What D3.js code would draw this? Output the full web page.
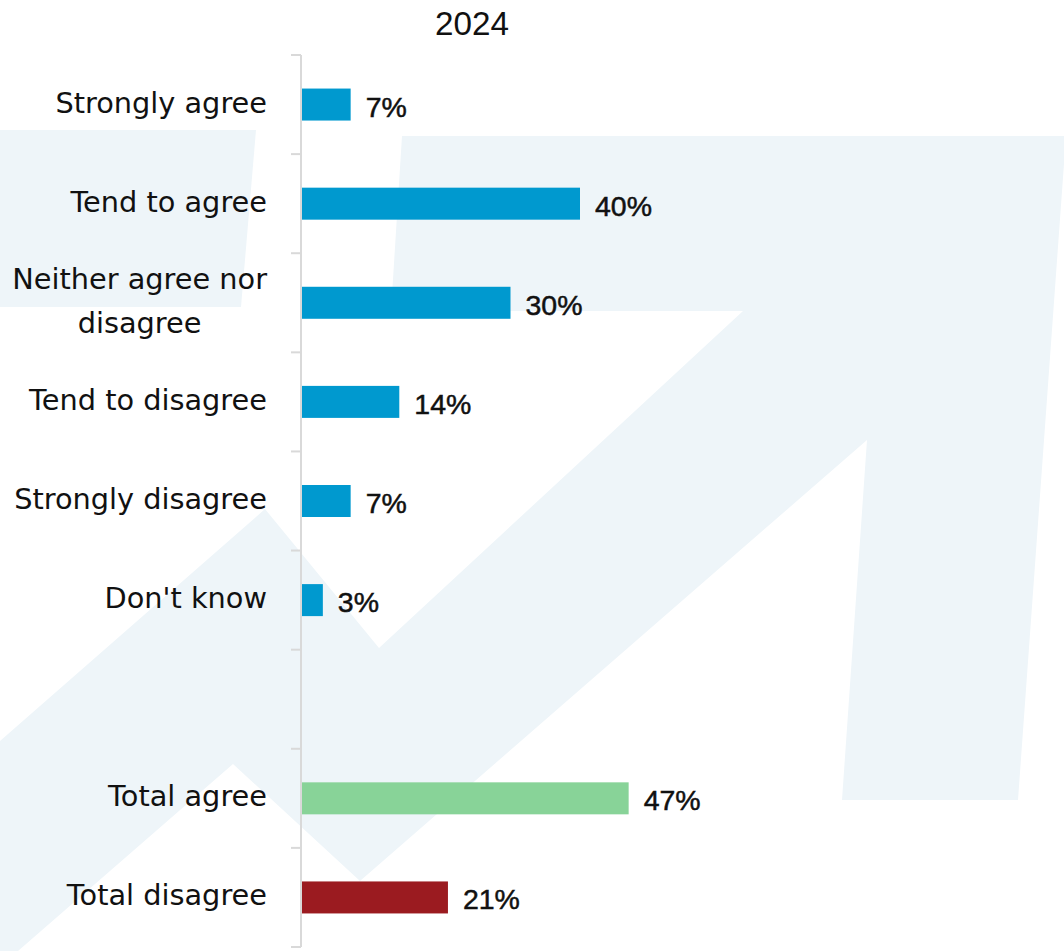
<!DOCTYPE html>
<html>
<head>
<meta charset="utf-8">
<script src="https://cdn.jsdelivr.net/npm/d3@7"></script>
<style>
  html, body { margin: 0; padding: 0; background: #ffffff; }
  svg { display: block; }
</style>
</head>
<body>
<svg id="chart" width="1064" height="951"></svg>
<script>
// ---- data ----
const title = "2024";
const categories = ["Strongly agree", "Tend to agree", "Neither agree nor disagree", "Tend to disagree", "Strongly disagree", "Don't know", " ", "Total agree", "Total disagree"];
const values = [7, 40, 30, 14, 7, 3, null, 47, 21];
const groups = ["detail", "detail", "detail", "detail", "detail", "detail", "blank", "agree", "disagree"];
const groupColors = { detail: "#0099CF", agree: "#88D398", disagree: "#9B1B20", blank: "none" };

const FONT = "'DejaVu Sans', sans-serif";
const NUMFONT = "'Liberation Sans', Arial, sans-serif";
const svg = d3.select("#chart");

// fit font size so a sample string has a target width
function fitSize(sample, targetW, family) {
  const t = svg.append("text").attr("font-family", family).attr("font-size", 26).text(sample);
  const w = t.node().getComputedTextLength();
  t.remove();
  return 26 * targetW / w;
}
const labelSize = fitSize("Strongly disagree", 253, FONT);
const valueSize = fitSize("40%", 57, NUMFONT);
const titleSize = fitSize("2024", 74, NUMFONT);

// ---- background decoration (brand arrow) ----
const bg = svg.append("g").attr("fill", "#EEF5F9");
bg.append("polygon").attr("points", "0,130 256,130 241,307 0,307");
bg.append("polygon").attr("points",
  "402,136 1066,136 1018,800 842,800 867,440 360,881 233,764 18,951 0,951 0,741 265,509 379,648 743,311 391,311");

// ---- scales ----
const y = d3.scaleBand().domain(categories).range([55, 947]).paddingInner(0).paddingOuter(0);
const x = d3.scaleLinear().domain([0, 100]).range([302, 997]);
const barH = 32;

// ---- axis ----
const axisG = svg.append("g").attr("transform", "translate(301,0)");
axisG.call(d3.axisLeft(y).tickSize(0).tickFormat(""));
axisG.select(".domain").attr("stroke", "#D9D9D9").attr("stroke-width", 2).attr("d", `M0,${y.range()[0]}V${y.range()[1]}`);
const bounds = categories.map(c => y(c)).concat([y.range()[1]]);
axisG.selectAll("line.bt").data(bounds).join("line")
  .attr("class", "bt")
  .attr("x1", -10).attr("x2", 0)
  .attr("y1", d => d).attr("y2", d => d)
  .attr("stroke", "#D9D9D9").attr("stroke-width", 2);

// ---- bars ----
const data = categories.map((c, i) => ({ c, v: values[i], g: groups[i] })).filter(d => d.v != null);
svg.append("g").selectAll("rect").data(data).join("rect")
  .attr("x", x(0))
  .attr("y", d => y(d.c) + y.bandwidth() / 2 - barH / 2)
  .attr("width", d => x(d.v) - x(0))
  .attr("height", barH)
  .attr("fill", d => groupColors[d.g]);

// ---- value labels ----
svg.append("g").selectAll("text").data(data).join("text")
  .attr("x", d => x(d.v) + 15)
  .attr("y", d => y(d.c) + y.bandwidth() / 2 + 12)
  .attr("font-family", NUMFONT)
  .attr("font-size", valueSize)
  .attr("fill", "#111")
  .attr("stroke", "#111")
  .attr("stroke-width", 0.5)
  .text(d => d.v + "%");

// ---- category labels ----
const labelRight = 267;
const wrapMap = { "Neither agree nor disagree": ["Neither agree nor", "disagree"] };
const lg = svg.append("g");
categories.forEach(c => {
  if (!c.trim()) return;
  const cy = y(c) + y.bandwidth() / 2;
  const lines = wrapMap[c] || [c];
  if (lines.length === 1) {
    lg.append("text")
      .attr("x", labelRight).attr("y", cy + 8)
      .attr("text-anchor", "end")
      .attr("font-family", FONT).attr("font-size", labelSize).attr("fill", "#111")
      .text(c);
  } else {
    const lh = 44;
    const tmp = lines.map(l => lg.append("text").attr("font-family", FONT).attr("font-size", labelSize).attr("fill", "#111").text(l));
    const maxW = d3.max(tmp, t => t.node().getComputedTextLength());
    const cx = labelRight - maxW / 2;
    tmp.forEach((t, i) => {
      t.attr("x", cx).attr("text-anchor", "middle")
       .attr("y", cy + 8 + (i - (lines.length - 1) / 2) * lh);
    });
  }
});

// ---- title ----
svg.append("text")
  .attr("x", 472).attr("y", 35)
  .attr("text-anchor", "middle")
  .attr("font-family", NUMFONT).attr("font-size", titleSize).attr("fill", "#111")
  .text(title);
</script>
</body>
</html>
